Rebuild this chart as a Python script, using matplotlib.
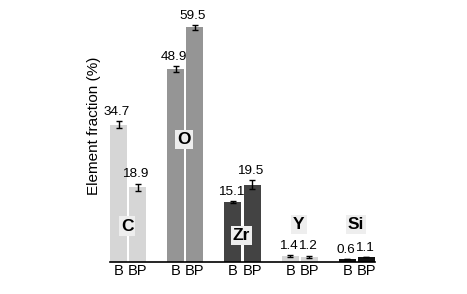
import numpy as np
import matplotlib
matplotlib.use("Agg")
import matplotlib.pyplot as plt
from matplotlib import font_manager

names = {f.name for f in font_manager.fontManager.ttflist}
print(sorted(n for n in names if "Liberation" in n))

plt.rcParams['font.family'] = ['Liberation Sans', 'DejaVu Sans']

elements = ["C", "O", "Zr", "Y", "Si"]
samples = ["B", "BP"]
b_vals = [34.7, 48.9, 15.1, 1.4, 0.6]
bp_vals = [18.9, 59.5, 19.5, 1.2, 1.1]
b_err = [0.9, 0.8, 0.2, 0.3, 0.0]
bp_err = [0.9, 0.6, 1.1, 0.3, 0.0]
colors = ["#d6d6d6", "#959595", "#434343", "#d6d6d6", "#111111"]

fig = plt.figure(figsize=(4.67, 2.94), dpi=100)
ax = fig.add_axes([110 / 467, 32.5 / 294, 265 / 467, 252 / 294])

spacing = 57.0 / 19.0
width = 17.0 / 19.0
x = np.arange(len(elements)) * spacing
xb = x - 0.5
xbp = x + 0.5

ax.bar(xb, b_vals, width=width, color=colors, yerr=b_err,
       error_kw=dict(ecolor="black", capsize=2, elinewidth=1, capthick=1))
ax.bar(xbp, bp_vals, width=width, color=colors, yerr=bp_err,
       error_kw=dict(ecolor="black", capsize=2, elinewidth=1, capthick=1))

for xs, vals, errs in [(xb, b_vals, b_err), (xbp, bp_vals, bp_err)]:
    for xi, v, e in zip(xs, vals, errs):
        ax.text(xi - 0.1, v + e + 0.8, f"{v}", ha="center", va="bottom",
                fontsize=9.7)

# element names with light boxes
label_y = [9.0, 31.0, 6.6, 9.5, 9.3]
for xi, name, ly in zip(x, elements, label_y):
    ax.text(xi - 0.05, ly, name, ha="center", va="center", fontsize=12.5,
            fontweight="bold",
            bbox=dict(facecolor="#eeeeee", edgecolor="none", pad=1.5))

ax.set_xticks(np.concatenate([xb, xbp]))
ax.set_xticklabels(samples[:1] * len(elements) + samples[1:] * len(elements),
                   fontsize=10.5)
ax.tick_params(axis="x", length=0, pad=2)
ax.set_yticks([])
ax.set_xlim(xb[0] - width / 2, xbp[-1] + width / 2)
ax.set_ylim(0, 64)
for s in ["top", "right", "left"]:
    ax.spines[s].set_visible(False)
ax.spines["bottom"].set_linewidth(1.2)
ax.set_ylabel("Element fraction (%)", fontsize=11)
ax.yaxis.set_label_coords(-0.035, 0.54)

fig.savefig("out.png", dpi=100)
